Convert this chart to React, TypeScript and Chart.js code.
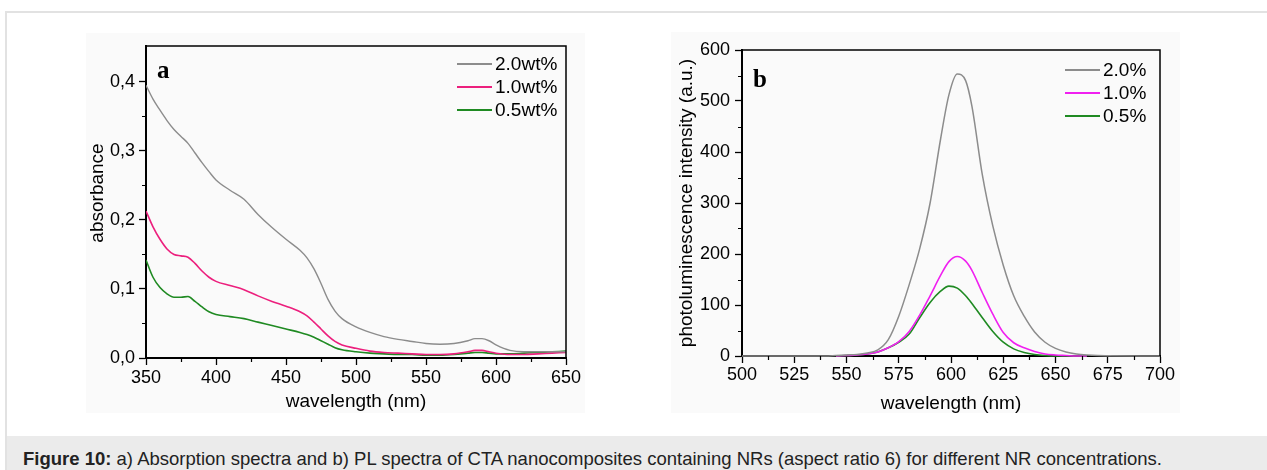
import React, { useEffect, useRef } from 'react';
import { Chart, registerables } from 'chart.js';

Chart.register(...registerables);

const FONT = '"Liberation Sans", Arial, Helvetica, sans-serif';

// ---------- Panel a: absorption spectra ----------
const wavelengthA = [350, 355, 360, 365, 370, 375, 380, 385, 390, 395, 400, 410, 420, 430, 440, 450, 460, 465, 470, 475, 480, 485, 490, 500, 510, 520, 530, 540, 550, 560, 570, 580, 585, 590, 595, 600, 610, 620, 630, 640, 650];
const absorbance20 = [0.395, 0.375, 0.359, 0.344, 0.331, 0.321, 0.311, 0.297, 0.283, 0.270, 0.258, 0.243, 0.230, 0.208, 0.189, 0.172, 0.156, 0.145, 0.129, 0.108, 0.085, 0.068, 0.057, 0.045, 0.037, 0.031, 0.027, 0.024, 0.021, 0.020, 0.021, 0.025, 0.028, 0.028, 0.025, 0.019, 0.011, 0.009, 0.009, 0.009, 0.009];
const absorbance10 = [0.213, 0.190, 0.172, 0.158, 0.150, 0.148, 0.146, 0.137, 0.126, 0.117, 0.111, 0.105, 0.099, 0.090, 0.082, 0.075, 0.067, 0.061, 0.052, 0.042, 0.032, 0.024, 0.019, 0.014, 0.010, 0.008, 0.007, 0.006, 0.005, 0.005, 0.006, 0.009, 0.011, 0.011, 0.009, 0.007, 0.005, 0.005, 0.006, 0.007, 0.008];
const absorbance05 = [0.142, 0.117, 0.102, 0.093, 0.088, 0.088, 0.089, 0.082, 0.074, 0.067, 0.063, 0.060, 0.057, 0.052, 0.047, 0.042, 0.037, 0.034, 0.030, 0.025, 0.020, 0.015, 0.012, 0.009, 0.007, 0.006, 0.005, 0.005, 0.004, 0.004, 0.005, 0.007, 0.008, 0.008, 0.007, 0.006, 0.006, 0.007, 0.008, 0.009, 0.010];
const seriesLabelsA = ['2.0wt%', '1.0wt%', '0.5wt%'];
const yTickLabelsA = ['0,0', '0,1', '0,2', '0,3', '0,4'];

// ---------- Panel b: PL spectra ----------
const wavelengthB = [500, 540, 545, 550, 555, 560, 565, 570, 575, 580, 585, 590, 595, 599, 603, 607, 610, 615, 620, 625, 630, 635, 640, 645, 650, 655, 660, 665, 670, 700];
const pl20 = [0, 0, 1, 2, 3, 6, 12, 32, 78, 140, 210, 300, 425, 512, 553, 540, 490, 355, 255, 178, 118, 78, 47, 27, 15, 8, 4, 2, 1, 0];
const pl10 = [null, null, 0, 1, 2, 4, 8, 16, 28, 48, 80, 118, 158, 185, 195, 186, 168, 124, 82, 46, 26, 16, 9, 4, 2, 1, 0, 0, null, null];
const pl05 = [null, null, 0, 1, 2, 4, 8, 16, 27, 43, 75, 105, 127, 137, 133, 118, 103, 75, 48, 27, 14, 7, 3, 1, 0, 0, 0, 0, null, null];
const seriesLabelsB = ['2.0%', '1.0%', '0.5%'];

const caption = 'a) Absorption spectra and b) PL spectra of CTA nanocomposites containing NRs (aspect ratio 6) for different NR concentrations.';

const GRAY = '#8c8c8c';
const PINK = '#ec1f7d';
const MAGENTA = '#f020f0';
const GREEN = '#1f8a22';

const zip = (xs: number[], ys: (number | null)[]) => xs.map((x, i) => ({ x, y: ys[i] }));

const decor = {
  id: 'decor',
  afterDraw(chart: any, _args: any, o: any) {
    const { ctx, chartArea: ca } = chart;
    const xs = chart.scales.x;
    const ys = chart.scales.y;
    ctx.save();
    // frame (top + right)
    ctx.strokeStyle = '#000';
    ctx.lineWidth = 1.5;
    ctx.beginPath();
    ctx.moveTo(ca.left, ca.top);
    ctx.lineTo(ca.right, ca.top);
    ctx.lineTo(ca.right, ca.bottom);
    ctx.stroke();
    // minor ticks
    ctx.lineWidth = 1.2;
    ctx.beginPath();
    for (let v = xs.min + o.xStep / 2; v < xs.max; v += o.xStep) {
      const p = Math.round(xs.getPixelForValue(v)) + 0.5;
      ctx.moveTo(p, ca.bottom);
      ctx.lineTo(p, ca.bottom + 4);
    }
    for (let v = ys.min + o.yStep / 2; v < ys.max - o.yStep * 0.1; v += o.yStep) {
      const p = Math.round(ys.getPixelForValue(v)) + 0.5;
      ctx.moveTo(ca.left, p);
      ctx.lineTo(ca.left - 4, p);
    }
    ctx.stroke();
    // panel letter
    ctx.fillStyle = '#000';
    ctx.font = 'bold 25px "Liberation Serif", "Times New Roman", serif';
    ctx.textAlign = 'left';
    ctx.textBaseline = 'alphabetic';
    ctx.fillText(o.panel, o.panelX, o.panelY);
    // legend
    ctx.font = `19px ${FONT}`;
    ctx.textBaseline = 'middle';
    chart.data.datasets.forEach((ds: any, i: number) => {
      const y = o.legendY[i];
      ctx.strokeStyle = ds.borderColor;
      ctx.lineWidth = 1.8;
      ctx.beginPath();
      ctx.moveTo(o.legendX, y);
      ctx.lineTo(o.legendX + 35, y);
      ctx.stroke();
      ctx.fillStyle = '#000';
      ctx.fillText(ds.label, o.legendX + 38, y + 1);
    });
    // y-axis title
    ctx.save();
    ctx.translate(o.yTitleX, o.yTitleY);
    ctx.rotate(-Math.PI / 2);
    ctx.textAlign = 'center';
    ctx.textBaseline = 'alphabetic';
    ctx.fillStyle = '#000';
    ctx.font = `19px ${FONT}`;
    ctx.fillText(o.yTitle, 0, 0);
    ctx.restore();
    ctx.restore();
  },
};

function buildConfig(p: any) {
  const tickFont = { family: FONT, size: 18 };
  return {
    type: 'line',
    data: { datasets: p.datasets },
    plugins: [decor],
    options: {
      responsive: false,
      animation: false,
      devicePixelRatio: 1,
      layout: { padding: { left: 0, top: p.plotTop, right: p.width - p.plotRight, bottom: 0 } },
      elements: { point: { radius: 0 }, line: { cubicInterpolationMode: 'monotone', borderWidth: 1.6 } },
      plugins: {
        legend: { display: false },
        tooltip: { enabled: false },
        decor: {
          xStep: p.xStep,
          yStep: p.yStep,
          panel: p.panel,
          panelX: p.panelX,
          panelY: p.panelY,
          legendX: p.legendX,
          legendY: p.legendY,
          yTitle: p.yTitle,
          yTitleX: p.yTitleX,
          yTitleY: p.yTitleY,
        },
      },
      scales: {
        x: {
          type: 'linear',
          min: p.xMin,
          max: p.xMax,
          ticks: { stepSize: p.xStep, font: tickFont, color: '#000', padding: p.xTickPad, maxRotation: 0, autoSkip: false, includeBounds: false },
          grid: { drawOnChartArea: false, drawTicks: true, tickLength: 7, tickColor: '#000', tickWidth: 1.3 },
          border: { display: true, color: '#000', width: 2 },
          title: { display: true, text: 'wavelength (nm)', color: '#000', font: { family: FONT, size: 19 }, padding: { top: 0, bottom: p.xTitlePad } },
          afterFit: (s: any) => { s.height = p.height - p.plotBottom; },
        },
        y: {
          type: 'linear',
          min: p.yMin,
          max: p.yMax,
          ticks: { stepSize: p.yStep, font: tickFont, color: '#000', padding: p.yTickPad, includeBounds: false, callback: p.yTickCallback },
          grid: { drawOnChartArea: false, drawTicks: true, tickLength: 7, tickColor: '#000', tickWidth: 1.3 },
          border: { display: true, color: '#000', width: 2 },
          afterFit: (s: any) => { s.width = p.plotLeft; },
        },
      },
    },
  };
}

const configA = () =>
  buildConfig({
    width: 640, height: 430,
    plotLeft: 146, plotRight: 566, plotTop: 46, plotBottom: 358,
    xMin: 350, xMax: 650, xStep: 50,
    yMin: 0, yMax: 0.452, yStep: 0.1,
    yTickCallback: (v: number) => {
      const i = Math.round(v * 10);
      return Math.abs(v * 10 - i) < 1e-6 ? yTickLabelsA[i] : '';
    },
    xTickPad: 2, yTickPad: 4, xTitlePad: 17,
    panel: 'a', panelX: 157, panelY: 78,
    legendX: 457, legendY: [64, 87, 110],
    yTitle: 'absorbance', yTitleX: 103, yTitleY: 193,
    datasets: [
      { label: seriesLabelsA[0], data: zip(wavelengthA, absorbance20), borderColor: GRAY, borderWidth: 1.4 },
      { label: seriesLabelsA[1], data: zip(wavelengthA, absorbance10), borderColor: PINK },
      { label: seriesLabelsA[2], data: zip(wavelengthA, absorbance05), borderColor: GREEN },
    ],
  });

const configB = () =>
  buildConfig({
    width: 620, height: 430,
    plotLeft: 102, plotRight: 520, plotTop: 50, plotBottom: 356,
    xMin: 500, xMax: 700, xStep: 25,
    yMin: 0, yMax: 600, yStep: 100,
    yTickCallback: (v: number) => String(v),
    xTickPad: 1, yTickPad: 5, xTitlePad: 15,
    panel: 'b', panelX: 113, panelY: 87,
    legendX: 425, legendY: [70, 93, 116],
    yTitle: 'photoluminescence intensity (a.u.)', yTitleX: 52, yTitleY: 203,
    datasets: [
      { label: seriesLabelsB[0], data: zip(wavelengthB, pl20), borderColor: GRAY, borderWidth: 1.5, clip: false },
      { label: seriesLabelsB[1], data: zip(wavelengthB, pl10), borderColor: MAGENTA, clip: false },
      { label: seriesLabelsB[2], data: zip(wavelengthB, pl05), borderColor: GREEN, clip: false },
    ],
  });

function ChartCanvas({ make, left, top, width, height }: { make: () => any; left: number; top: number; width: number; height: number }) {
  const ref = useRef<HTMLCanvasElement>(null);
  useEffect(() => {
    const chart = new Chart(ref.current as HTMLCanvasElement, make());
    return () => chart.destroy();
  }, [make]);
  return (
    <canvas
      ref={ref}
      width={width}
      height={height}
      style={{ position: 'absolute', left, top, width, height, display: 'block' }}
    />
  );
}

export default function App() {
  return (
    <div style={{ position: 'fixed', left: 0, top: 0, width: 1267, height: 470, overflow: 'hidden', background: '#fff', fontFamily: FONT }}>
      <div style={{ position: 'absolute', left: 5, top: 11, width: 1400, height: 600, borderTop: '2px solid #e2e2e2', borderLeft: '2px solid #e2e2e2', boxSizing: 'border-box' }} />
      <div style={{ position: 'absolute', left: 86, top: 33, width: 499, height: 380, background: '#fafafa' }} />
      <div style={{ position: 'absolute', left: 671, top: 32, width: 509, height: 381, background: '#fafafa' }} />
      <ChartCanvas make={configA} left={0} top={0} width={640} height={430} />
      <ChartCanvas make={configB} left={640} top={0} width={620} height={430} />
      <div style={{ position: 'absolute', left: 7, top: 436, width: 1300, height: 40, background: '#ebebeb' }} />
      <div style={{ position: 'absolute', left: 23, top: 448.6, whiteSpace: 'nowrap', fontSize: 18.5, lineHeight: '20px', color: '#222' }}>
        <b>Figure 10:</b> {caption}
      </div>
    </div>
  );
}
